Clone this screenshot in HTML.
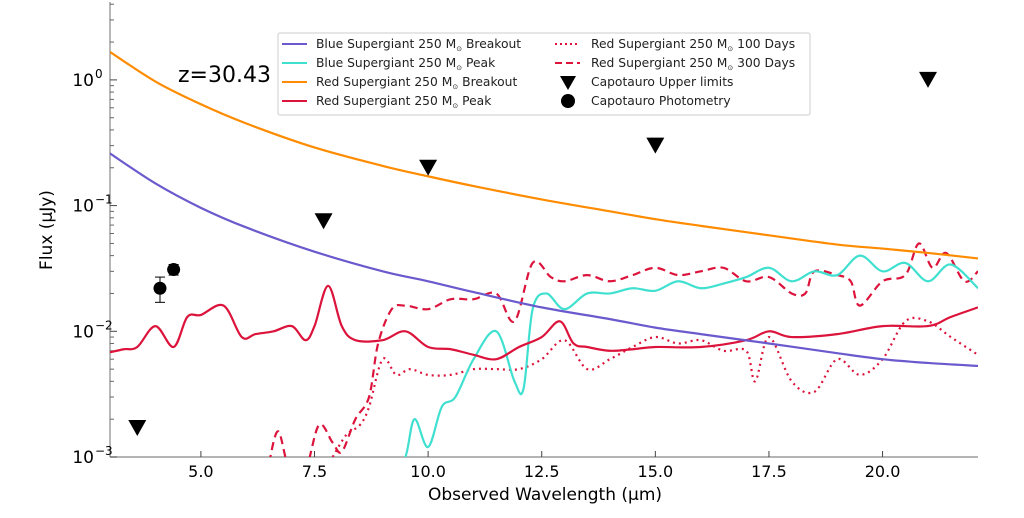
<!DOCTYPE html>
<html><head><meta charset="utf-8"><style>
body{margin:0;background:#fff;font-family:"Liberation Sans","DejaVu Sans",sans-serif}
svg text{font-family:"DejaVu Sans","Liberation Sans",sans-serif}
</style></head><body>
<svg id="chart" width="1024" height="513" xmlns="http://www.w3.org/2000/svg">
<defs><clipPath id="clip"><rect x="110" y="2" width="868" height="455"/></clipPath></defs>
<g id="axes"></g>
<g id="series" clip-path="url(#clip)"></g>
<g id="marks"></g>
<text x="178" y="82" font-size="22" fill="#000">z=30.43</text>
<text x="545" y="500" font-size="17" text-anchor="middle">Observed Wavelength (μm)</text>
<text transform="translate(52,230) rotate(-90)" font-size="17" text-anchor="middle">Flux (μJy)</text>
<g>
<rect x="278" y="33" width="532" height="82" fill="#fff" stroke="#ccc" rx="2"/>
<g font-size="12.3" fill="#222">
<g><line x1="282" y1="44" x2="307" y2="44" stroke="#6a5acd" stroke-width="2"/><text x="316" y="48">Blue Supergiant 250 M<tspan font-size="7" dy="3">⊙</tspan><tspan dy="-3"> Breakout</tspan></text></g>
<g><line x1="282" y1="63" x2="307" y2="63" stroke="#40e0d0" stroke-width="2"/><text x="316" y="67">Blue Supergiant 250 M<tspan font-size="7" dy="3">⊙</tspan><tspan dy="-3"> Peak</tspan></text></g>
<g><line x1="282" y1="82" x2="307" y2="82" stroke="#ff8c00" stroke-width="2"/><text x="316" y="86">Red Supergiant 250 M<tspan font-size="7" dy="3">⊙</tspan><tspan dy="-3"> Breakout</tspan></text></g>
<g><line x1="282" y1="101" x2="307" y2="101" stroke="#dc143c" stroke-width="2"/><text x="316" y="105">Red Supergiant 250 M<tspan font-size="7" dy="3">⊙</tspan><tspan dy="-3"> Peak</tspan></text></g>
<g><line x1="555" y1="44" x2="580" y2="44" stroke="#dc143c" stroke-width="2" stroke-dasharray="2,3"/><text x="591" y="48">Red Supergiant 250 M<tspan font-size="7" dy="3">⊙</tspan><tspan dy="-3"> 100 Days</tspan></text></g>
<g><line x1="555" y1="63" x2="580" y2="63" stroke="#dc143c" stroke-width="2" stroke-dasharray="7,4"/><text x="591" y="67">Red Supergiant 250 M<tspan font-size="7" dy="3">⊙</tspan><tspan dy="-3"> 300 Days</tspan></text></g>
<g><polygon points="560,76 576,76 568,90" fill="#000"/><text x="591" y="86">Capotauro Upper limits</text></g>
<g><circle cx="568" cy="101" r="7" fill="#000"/><text x="591" y="105">Capotauro Photometry</text></g>
</g></g>
</svg>
<script>
const xMin=3, xMax=22.1;
const xTicks=[5,7.5,10,12.5,15,17.5,20];
const xTickLabels=["5.0","7.5","10.0","12.5","15.0","17.5","20.0"];
const yTickExps=[0,-1,-2,-3];
const bsgBreakX=[3,4,5,6,7.5,9,10,11,12.5,14,15,16,17.5,19,20,21,22.1];
const bsgBreakY=[0.26,0.15,0.096,0.067,0.043,0.030,0.025,0.0205,0.0155,0.0125,0.0107,0.0095,0.008,0.0067,0.006,0.0056,0.0053];
const rsgBreakX=[3,4,5,6,7.5,9,10,11,12.5,14,15,16,17.5,19,20,21,22.1];
const rsgBreakY=[1.67,0.97,0.64,0.45,0.29,0.207,0.171,0.143,0.112,0.09,0.078,0.069,0.058,0.049,0.0455,0.042,0.038];
const rsgPeakX=[3,3.3,3.6,4,4.4,4.7,5,5.5,5.9,6.2,6.6,7,7.3,7.5,7.8,8.1,8.4,9,9.5,10,10.5,11,11.5,12,12.5,12.9,13.2,13.5,14,14.5,15,16,17,17.5,18,19,20,21,21.5,22.1];
const rsgPeakY=[0.0068,0.0072,0.0075,0.011,0.0075,0.013,0.0135,0.016,0.009,0.0095,0.01,0.011,0.0085,0.011,0.023,0.011,0.0085,0.0085,0.01,0.0075,0.0072,0.0065,0.006,0.0075,0.009,0.012,0.008,0.0075,0.007,0.0072,0.0075,0.0075,0.0085,0.01,0.009,0.0095,0.011,0.011,0.013,0.0155];
const rsg300X=[6.5,6.7,6.95,7.3,7.6,7.9,8.1,8.4,8.7,8.9,9.2,9.5,10,10.5,11,11.5,11.9,12.3,12.7,13,13.5,14,14.5,15,15.5,16,16.5,17,17.5,18,18.3,18.5,19,19.3,19.5,20,20.5,20.8,21.1,21.4,21.8,22.1];
const rsg300Y=[0.0009,0.0016,0.0008,0.0008,0.0018,0.0013,0.0011,0.002,0.003,0.008,0.015,0.016,0.015,0.018,0.018,0.02,0.012,0.035,0.027,0.025,0.028,0.025,0.028,0.032,0.028,0.03,0.032,0.025,0.027,0.02,0.02,0.03,0.028,0.025,0.016,0.025,0.028,0.05,0.032,0.042,0.025,0.03];
const rsg100X=[7.9,8.2,8.5,8.7,9,9.3,9.6,10,10.5,11,11.5,12,12.5,13,13.5,14,14.5,15,15.5,16,16.5,17,17.2,17.5,18,18.5,19,19.5,20,20.5,21,21.5,22.1];
const rsg100Y=[0.001,0.0015,0.0018,0.0025,0.006,0.0045,0.005,0.0045,0.0045,0.005,0.005,0.005,0.006,0.0085,0.005,0.006,0.0075,0.009,0.008,0.0085,0.007,0.007,0.004,0.009,0.004,0.0033,0.006,0.0045,0.006,0.012,0.012,0.009,0.0065];
const bsgPeakX=[9.2,9.5,9.7,10,10.3,10.6,11,11.5,11.9,12.1,12.3,12.6,13,13.5,14,14.5,15,15.5,16,16.5,17,17.5,18,18.5,19,19.5,20,20.5,21,21.5,22.1];
const bsgPeakY=[0.0007,0.001,0.002,0.0012,0.0025,0.003,0.006,0.01,0.004,0.0035,0.015,0.02,0.015,0.02,0.02,0.022,0.021,0.025,0.022,0.024,0.027,0.032,0.025,0.03,0.028,0.04,0.03,0.035,0.025,0.034,0.022];
const ulX=[3.6,7.7,10,15,21];
const ulY=[0.0017,0.075,0.2,0.3,1.0];
const phX=[4.1,4.4];
const phY=[0.022,0.031];
const phLo=[0.017,0.028];
const phHi=[0.027,0.034];
const NS="http://www.w3.org/2000/svg";
function sx(v){return 110+(v-xMin)/(xMax-xMin)*868;}
function sy(v){return 457-(Math.log10(v)+3)*125.7;}
function mk(tag,attrs,parent){const e=document.createElementNS(NS,tag);for(const k in attrs)e.setAttribute(k,attrs[k]);parent.appendChild(e);return e;}
const axes=document.getElementById('axes');
let a=mk('line',{x1:110,y1:2,x2:110,y2:457,stroke:'#888','stroke-width':1.2},axes);


a=mk('line',{x1:110,y1:457,x2:978,y2:457,stroke:'#888','stroke-width':1.2},axes);


xTicks.forEach((t,i)=>{const x=sx(t);
mk('line',{x1:x,y1:457,x2:x,y2:451,stroke:'#444'},axes);
const tx=mk('text',{x:x,y:477,'font-size':16,'text-anchor':'middle'},axes);tx.textContent=xTickLabels[i];

});
yTickExps.forEach(e=>{const y=sy(Math.pow(10,e));
mk('line',{x1:110,y1:y,x2:117,y2:y,stroke:'#444'},axes);
const tx=mk('text',{x:94,y:y+6,'font-size':17,'text-anchor':'end'},axes);tx.textContent='10';


const ty=mk('text',{x:95,y:y-2,'font-size':12},axes);ty.textContent=e===0?'0':'\u2212'+(-e);
for(let m=2;m<10;m++){const v=m*Math.pow(10,e);const yy=sy(v);if(yy>2&&yy<457)mk('line',{x1:110,y1:yy,x2:114,y2:yy,stroke:'#666'},axes);}
});
function smooth(xs,ys){const p=xs.map((x,i)=>[sx(x),sy(ys[i])]);let d='M'+p[0][0]+','+p[0][1];
for(let i=0;i<p.length-1;i++){const p0=p[i-1]||p[i],p1=p[i],p2=p[i+1],p3=p[i+2]||p2;
d+=' C'+(p1[0]+(p2[0]-p0[0])/6)+','+(p1[1]+(p2[1]-p0[1])/6)+' '+(p2[0]-(p3[0]-p1[0])/6)+','+(p2[1]-(p3[1]-p1[1])/6)+' '+p2[0]+','+p2[1];}
return d;}
const g=document.getElementById('series');
function line(xs,ys,color,dash,name){const e=mk('path',{d:smooth(xs,ys),fill:'none',stroke:color,'stroke-width':2.2},g);if(dash)e.setAttribute('stroke-dasharray',dash);

}
line(rsg100X,rsg100Y,'#dc143c','2,4','line-rsg-100days');
line(rsg300X,rsg300Y,'#dc143c','8,5','line-rsg-300days');
line(bsgPeakX,bsgPeakY,'#40e0d0',null,'line-bsg-peak');
line(rsgPeakX,rsgPeakY,'#dc143c',null,'line-rsg-peak');
line(bsgBreakX,bsgBreakY,'#6a5acd',null,'line-bsg-breakout');
line(rsgBreakX,rsgBreakY,'#ff8c00',null,'line-rsg-breakout');
const mg=document.getElementById('marks');
ulX.forEach((x,i)=>{const cx=sx(x),cy=sy(ulY[i]);
const t=mk('polygon',{points:(cx-9)+','+(cy-8)+' '+(cx+9)+','+(cy-8)+' '+cx+','+(cy+8),fill:'#000'},mg);

});
phX.forEach((x,i)=>{const cx=sx(x);
mk('line',{x1:cx,y1:sy(phLo[i]),x2:cx,y2:sy(phHi[i]),stroke:'#000'},mg);
mk('line',{x1:cx-5,y1:sy(phLo[i]),x2:cx+5,y2:sy(phLo[i]),stroke:'#000'},mg);
mk('line',{x1:cx-5,y1:sy(phHi[i]),x2:cx+5,y2:sy(phHi[i]),stroke:'#000'},mg);
const c=mk('circle',{cx:cx,cy:sy(phY[i]),r:6.5,fill:'#000'},mg);

});
</script>
</body></html>
